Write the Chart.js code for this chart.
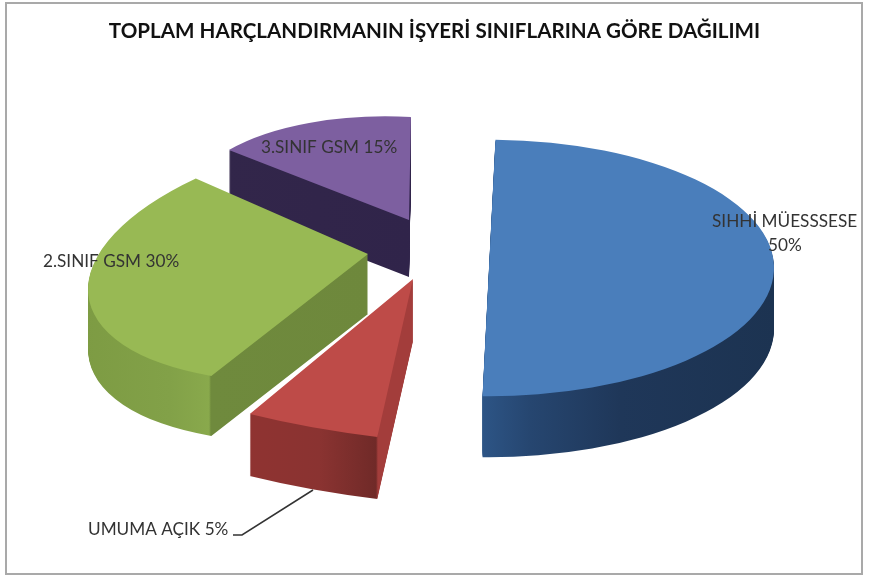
<!DOCTYPE html>
<html>
<head>
<meta charset="utf-8">
<title>Toplam harçlandırma</title>
<script src="https://cdn.jsdelivr.net/npm/chart.js@4/dist/chart.umd.min.js"></script>
<style>
  body { margin: 0; background: #fff; }
  /* the reference is a soft scan */
  canvas { display: block; filter: blur(0.45px); }
</style>
</head>
<body>
<canvas id="dataChart" width="869" height="577"></canvas>
<script>
var chartTitle = 'TOPLAM HARÇLANDIRMANIN İŞYERİ SINIFLARINA GÖRE DAĞILIMI';
var categories = ['SIHHİ MÜESSSESE', 'UMUMA AÇIK', '2.SINIF GSM', '3.SINIF GSM'];
var shareValues = [50, 5, 30, 15];

var topColors = ['#4a7ebb', '#be4b48', '#98b954', '#7d5fa0'];

// fake 3D: each slice gets its own projection matrix [a, b, c, d], a shift away from the pie centre, and a depth
var sliceViews = [
  [1.0, 0, 0, 0.45],
  [1.47, -0.092, 0.159, 0.558],
  [0.95, -0.25, -0.01, 0.45],
  [0.786, 0.011, 0.033, 0.362]
];
var sliceShifts = [[54.5, -46.9], [-21.5, -35.9], [-66.5, -60.9], [-25.5, -94.9]];
var sliceDepths = [61, 62, 60, 57];
var drawOrder = [3, 2, 1, 0];

// side wall colours, banded by screen x
var wallStops = [
  [[481, '#2d5586'], [530, '#264670'], [620, '#1f3759'], [776, '#1c3351']],
  [[250, '#8f3331'], [320, '#8a3331'], [376, '#702a28'], [378, '#a33d3b'], [414, '#a33d3b']],
  [[80, '#7d9b43'], [170, '#82a148'], [209, '#89a94c'], [211, '#6f8a3d'], [370, '#6e883c']],
  [[225, '#32264a'], [412, '#30244a']]
];

function sliceWall(ctx, arc, i) {
  var m = sliceViews[i];
  var originX = arc.x + sliceShifts[i][0];
  var stops = wallStops[i];
  var x0 = stops[0][0], x1 = stops[stops.length - 1][0];
  var n = m[0] * m[0] + m[1] * m[1];
  // gradient line along (a, b) so its bands come out vertical after the matrix
  var g = ctx.createLinearGradient(
    arc.x + (x0 - originX) * m[0] / n, arc.y + (x0 - originX) * m[1] / n,
    arc.x + (x1 - originX) * m[0] / n, arc.y + (x1 - originX) * m[1] / n
  );
  stops.forEach(function(s) { g.addColorStop((s[0] - x0) / (x1 - x0), s[1]); });
  return g;
}

var pie3d = {
  id: 'pie3d',
  beforeDraw: function(chart) {
    var ctx = chart.ctx;
    ctx.save();
    ctx.strokeStyle = '#a9a9a9';
    ctx.lineWidth = 2;
    ctx.strokeRect(6, 3, 856, 571);
    ctx.restore();
  },
  beforeDatasetsDraw: function(chart) {
    var ctx = chart.ctx;
    var arcs = chart.getDatasetMeta(0).data;
    drawOrder.forEach(function(i) {
      var arc = arcs[i];
      var base = arc.options;
      var m = sliceViews[i];
      var wall = Object.create(base);
      wall.backgroundColor = sliceWall(ctx, arc, i);
      for (var k = sliceDepths[i]; k >= 0; k--) {
        ctx.save();
        ctx.translate(arc.x + sliceShifts[i][0], arc.y + sliceShifts[i][1] + k);
        ctx.transform(m[0], m[2], m[1], m[3], 0, 0);
        ctx.translate(-arc.x, -arc.y);
        arc.options = k ? wall : base;
        arc.draw(ctx);
        ctx.restore();
      }
      arc.options = base;
    });
    return false;
  },
  afterDraw: function(chart) {
    var ctx = chart.ctx;
    ctx.save();
    ctx.font = '17.2px Lato';
    ctx.fillStyle = '#333';
    ctx.textBaseline = 'alphabetic';
    ctx.textAlign = 'left';
    ctx.fillText(categories[3] + ' ' + shareValues[3] + '%', 261, 153);
    ctx.fillText(categories[2] + ' ' + shareValues[2] + '%', 43, 267);
    ctx.fillText(categories[1] + ' ' + shareValues[1] + '%', 88, 535);
    ctx.fillText(categories[0], 712, 227);
    ctx.fillText(shareValues[0] + '%', 768, 251);
    // leader line of the small slice
    ctx.strokeStyle = '#333';
    ctx.lineWidth = 1.5;
    ctx.beginPath();
    ctx.moveTo(233, 535);
    ctx.lineTo(242, 535);
    ctx.lineTo(313, 490);
    ctx.stroke();
    ctx.restore();
  }
};

var ctx = document.getElementById('dataChart').getContext('2d');
var dataChart = new Chart(ctx, {
  type: 'pie',
  data: {
    labels: categories,
    datasets: [{
      data: shareValues,
      backgroundColor: topColors,
      borderWidth: 0,
      clip: false
    }]
  },
  options: {
    responsive: false,
    animation: false,
    rotation: 1.3,
    radius: 285,
    plugins: {
      legend: { display: false },
      tooltip: { enabled: false },
      title: {
        display: true,
        text: chartTitle,
        color: '#111',
        font: { family: 'Lato', size: 20.6, weight: 'bold' },
        padding: { top: 19, bottom: 9 }
      }
    }
  },
  plugins: [pie3d]
});
</script>
</body>
</html>
